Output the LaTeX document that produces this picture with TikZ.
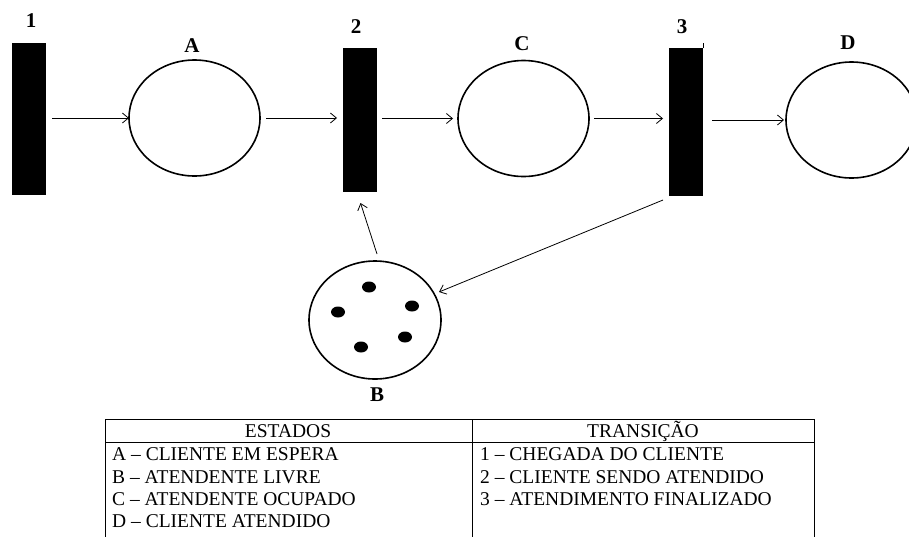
\documentclass[tikz,border=0pt]{standalone}
\usepackage{fontspec}
\setmainfont{Liberation Serif}
\usetikzlibrary{shapes.geometric,arrows.meta,calc}
\begin{document}
\begin{tikzpicture}[x=1pt,y=1pt,
 trans/.style={rectangle,fill=black,inner sep=0pt,outer sep=0pt,anchor=north west,minimum width=34pt},
 place/.style={ellipse,draw,line width=1.6pt,inner sep=0pt,outer sep=0pt,minimum width=131pt,minimum height=116pt},
 token/.style={ellipse,fill=black,inner sep=0pt,minimum width=14pt,minimum height=11pt},
 lbl/.style={font=\fontsize{21}{24}\selectfont\bfseries,anchor=base,inner sep=0pt},
 arr/.style={line width=0.8pt,-{Straight Barb[length=6pt,width=10pt]}},
 cell/.style={font=\fontsize{19.5}{22}\selectfont,anchor=base west,inner sep=0pt},
 head/.style={font=\fontsize{19.5}{22}\selectfont,anchor=base,inner sep=0pt},
 grid/.style={line width=0.9pt}]
\useasboundingbox (0,0) rectangle (909,-536);
% transitions
\node[trans,minimum height=152pt] (t1) at (12,-43) {};
\node[trans,minimum height=144pt] (t2) at (343,-48) {};
\node[trans,minimum height=148pt] (t3) at (669,-48) {};
\draw[line width=1pt] (t3.north east) -- ++(0,5);
% places
\node[place] (A) at (194.5,-118) {};
\node[place] (C) at (523.5,-118.5) {};
\node[place] (D) at (851.5,-120) {};
\node[place,minimum width=132pt,minimum height=118pt] (B) at (375,-320) {};
% tokens
\node[token] (k1) at (369,-287) {};
\node[token] (k2) at (338,-312) {};
\node[token] (k3) at (412,-306) {};
\node[token] (k4) at (405,-337) {};
\node[token] (k5) at (361,-347) {};
% labels
\node[lbl] (l1) at (31,-27) {1};
\node[lbl] (l2) at (356,-33) {2};
\node[lbl] (l3) at (682,-33) {3};
\node[lbl] (lA) at (192,-52) {A};
\node[lbl] (lC) at (522,-50) {C};
\node[lbl] (lD) at (848,-49) {D};
\node[lbl] (lB) at (377,-401) {B};
% arcs
\draw[arr] ($(A.west -| t1.east)+(6,0)$) -- (A.west);
\draw[arr] ($(A.east)+(6,0)$) -- ($(A.east -| t2.west)+(-6,0)$);
\draw[arr] ($(C.west -| t2.east)+(5,0)$) -- ($(C.west)+(-5,0)$);
\draw[arr] ($(C.east)+(5,0)$) -- ($(C.east -| t3.west)+(-6,0)$);
\draw[arr] ($(D.west -| t3.east)+(9,0)$) -- ($(D.west)+(-2,0)$);
\draw[arr] ($(B.north)+(2,7)$) -- ($(t2.south)+(0.5,-11)$);
\draw[arr] ($(t3.south west)+(-6,-4)$) -- ($(B.center)+(64,28)$);
% table
\coordinate (tl) at (105,-419);
\coordinate (tr) at (814,-419);
\coordinate (tm) at (472,-419);
\draw[grid] (tl |- 0,-545) -- (tl) -- (tr) -- (tr |- 0,-545);
\draw[grid] (105,-442) -- (814,-442);
\draw[grid] (tm) -- (tm |- 0,-545);
\node[head] (hE) at (288,-437) {ESTADOS};
\node[head] (hT) at (643,-437) {TRANSIÇÃO};
\node[cell] (e1) at (112,-460) {A – CLIENTE EM ESPERA};
\node[cell] (e2) at (112,-483) {B – ATENDENTE LIVRE};
\node[cell] (e3) at (112,-505) {C – ATENDENTE OCUPADO};
\node[cell] (e4) at (112,-527) {D – CLIENTE ATENDIDO};
\node[cell] (r1) at (480,-460) {1 – CHEGADA DO CLIENTE};
\node[cell] (r2) at (480,-483) {2 – CLIENTE SENDO ATENDIDO};
\node[cell] (r3) at (480,-505) {3 – ATENDIMENTO FINALIZADO};
\end{tikzpicture}
\end{document}
